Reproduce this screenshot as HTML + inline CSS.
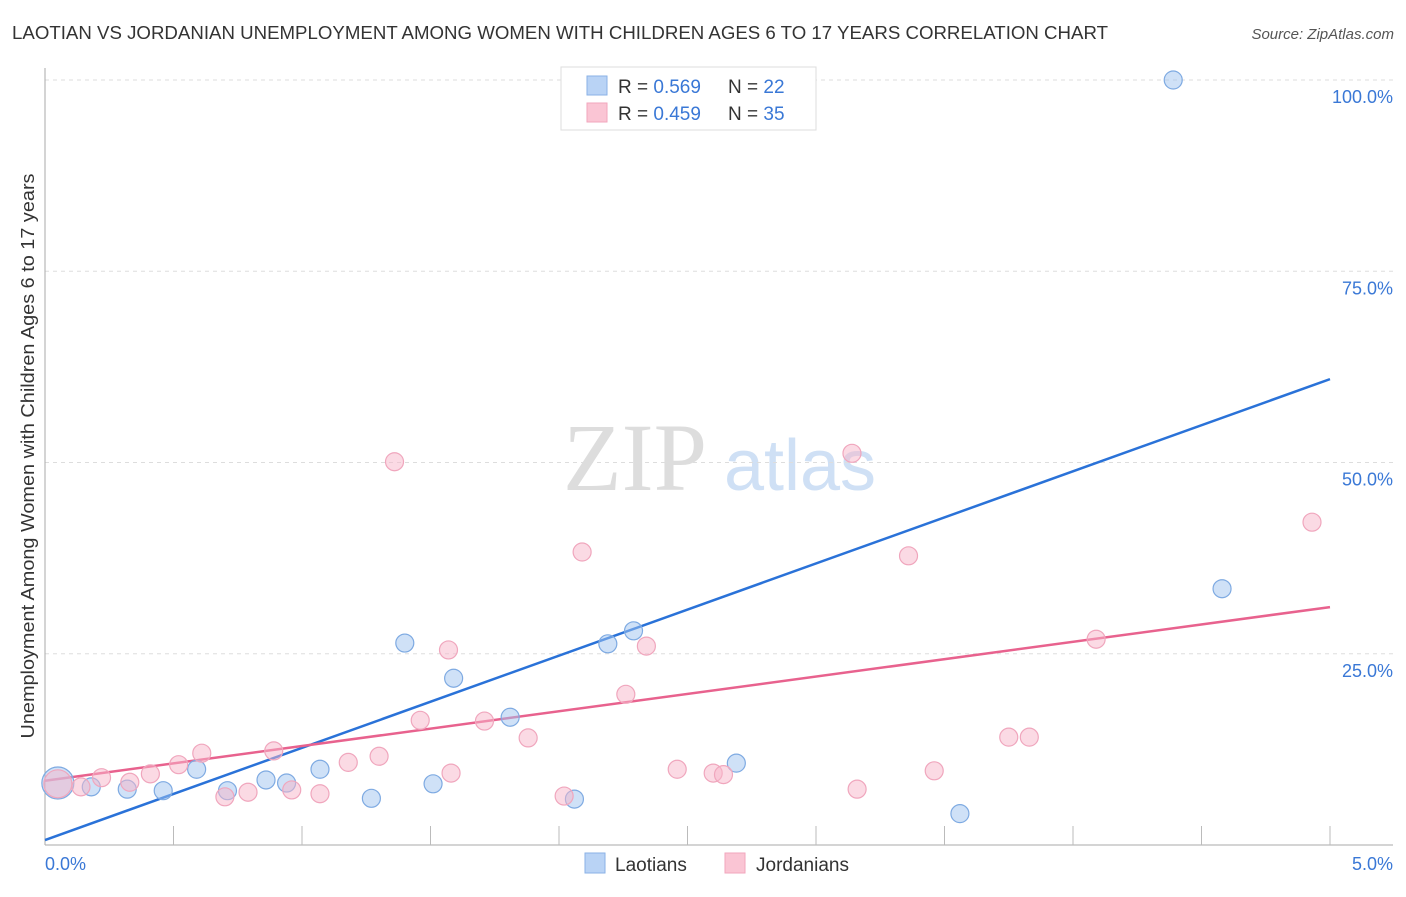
<!DOCTYPE html>
<html><head><meta charset="utf-8"><style>
body{margin:0;background:#fff;font-family:"Liberation Sans",sans-serif}
</style></head><body>
<svg id="chart" width="1406" height="892" viewBox="0 0 1406 892" xmlns="http://www.w3.org/2000/svg">
<text x="12" y="39" font-size="18" fill="#333" textLength="1096" lengthAdjust="spacingAndGlyphs">LAOTIAN VS JORDANIAN UNEMPLOYMENT AMONG WOMEN WITH CHILDREN AGES 6 TO 17 YEARS CORRELATION CHART</text>
<text x="1394" y="39" font-size="15" fill="#555" font-style="italic" text-anchor="end">Source: ZipAtlas.com</text>
<g>
<text x="635" y="490" font-size="96" fill="#ddd" font-family="Liberation Serif,serif" text-anchor="middle">ZIP</text>
<text x="800" y="490" font-size="72" fill="#cfe0f5" text-anchor="middle">atlas</text>
</g>
<g id="grid"></g>
<g id="axes"></g>
<g id="lines"></g>
<g id="points"></g>
<text transform="translate(34,456) rotate(-90)" font-size="18" fill="#333" text-anchor="middle" textLength="565" lengthAdjust="spacingAndGlyphs">Unemployment Among Women with Children Ages 6 to 17 years</text>
<g>
<rect x="561" y="67" width="255" height="63" fill="#fff" stroke="#ddd"/>
<rect x="587" y="76" width="20" height="19" fill="#b9d3f5" stroke="#8ab2e6"/>
<rect x="587" y="103" width="20" height="19" fill="#fac5d4" stroke="#f2a6bd"/>
<text x="618" y="93" font-size="19" fill="#333">R = <tspan fill="#3a78d6">0.569</tspan><tspan x="728">N = </tspan><tspan fill="#3a78d6">22</tspan></text>
<text x="618" y="120" font-size="19" fill="#333">R = <tspan fill="#3a78d6">0.459</tspan><tspan x="728">N = </tspan><tspan fill="#3a78d6">35</tspan></text>
</g>
<g>
<rect x="585" y="853" width="20" height="20" fill="#b9d3f5" stroke="#8ab2e6"/>
<text x="615" y="871" font-size="19" fill="#333">Laotians</text>
<rect x="725" y="853" width="20" height="20" fill="#fac5d4" stroke="#f2a6bd"/>
<text x="756" y="871" font-size="19" fill="#333">Jordanians</text>
</g>
</svg>
<script>
const xTicks=[0,5];
const yTicks=[25,50,75,100];
const blueX=[0.05,0.18,0.32,0.46,0.59,0.71,0.86,0.94,1.07,1.27,1.40,1.51,1.59,1.81,2.06,2.19,2.29,2.53,2.69,3.56,4.39,4.58];
const blueY=[8.1,7.6,7.3,7.1,9.9,7.1,8.5,8.1,9.9,6.1,26.4,8.0,21.8,16.7,6.0,26.3,28.0,100,10.7,4.1,100,33.5];
const blueR=[16,9,9,9,9,9,9,9,9,9,9,9,9,9,9,9,9,9,9,9,9,9];
const pinkX=[0.05,0.14,0.22,0.33,0.41,0.52,0.61,0.70,0.79,0.89,0.96,1.07,1.18,1.30,1.36,1.46,1.57,1.58,1.71,1.88,2.02,2.09,2.26,2.34,2.46,2.60,2.64,3.14,3.16,3.36,3.46,3.75,3.83,4.09,4.93];
const pinkY=[8.0,7.6,8.8,8.2,9.3,10.5,12.0,6.3,6.9,12.3,7.2,6.7,10.8,11.6,50.1,16.3,25.5,9.4,16.2,14.0,6.4,38.3,19.7,26.0,9.9,9.4,9.2,51.2,7.3,37.8,9.7,14.1,14.1,26.9,42.2];
const pinkR=[14,9,9,9,9,9,9,9,9,9,9,9,9,9,9,9,9,9,9,9,9,9,9,9,9,9,9,9,9,9,9,9,9,9,9];
const blueTrend=[0.65,60.9];
const pinkTrend=[8.4,31.1];
const NS="http://www.w3.org/2000/svg";
const X=v=>45+v*257;
const Y=v=>845-v*7.65;
function mk(t,a,p){const e=document.createElementNS(NS,t);for(const k in a)e.setAttribute(k,a[k]);p.appendChild(e);return e;}
const grid=document.getElementById('grid'),axes=document.getElementById('axes'),lines=document.getElementById('lines'),pts=document.getElementById('points');
yTicks.forEach(v=>{
 const l=mk('line',{x1:45,x2:1393,y1:Y(v),y2:Y(v),stroke:'#ddd','stroke-dasharray':'4,4'},grid);
 
 
 const t=mk('text',{x:1393,y:Y(v)+23,'font-size':18,fill:'#3a78d6','text-anchor':'end'},grid);
 t.textContent=v.toFixed(1)+'%';
 
 
});
mk('line',{x1:45,x2:45,y1:68,y2:845,stroke:'#aaa'},axes);
mk('line',{x1:45,x2:1393,y1:845,y2:845,stroke:'#aaa'},axes);
for(let i=1;i<=10;i++){const tk=mk('line',{x1:X(i*0.5),x2:X(i*0.5),y1:826,y2:845,stroke:'#bbb'},axes);
 
 }
xTicks.forEach((v,i)=>{const t=mk('text',{x:i==0?X(v):X(v)+63,y:870,'font-size':18,fill:'#3a78d6','text-anchor':i==0?'start':'end'},axes);
 t.textContent=v.toFixed(1)+'%';
 
 });
function drawPts(xs,ys,rs,fill,stroke,name){xs.forEach((x,i)=>{const c=mk('circle',{cx:X(x),cy:Y(ys[i]),r:rs[i],fill:fill,stroke:stroke,'stroke-width':1.2},pts);
 
 });}
drawPts(blueX,blueY,blueR,'rgba(160,196,240,0.5)','#7eaae2','laotian-point');
drawPts(pinkX,pinkY,pinkR,'rgba(248,182,202,0.5)','#f0a6bd','jordanian-point');
const bl=mk('line',{x1:X(0),y1:Y(blueTrend[0]),x2:X(5),y2:Y(blueTrend[1]),stroke:'#2a72d8','stroke-width':2.5},lines);


const pl=mk('line',{x1:X(0),y1:Y(pinkTrend[0]),x2:X(5),y2:Y(pinkTrend[1]),stroke:'#e8628e','stroke-width':2.5},lines);


</script>
</body></html>
